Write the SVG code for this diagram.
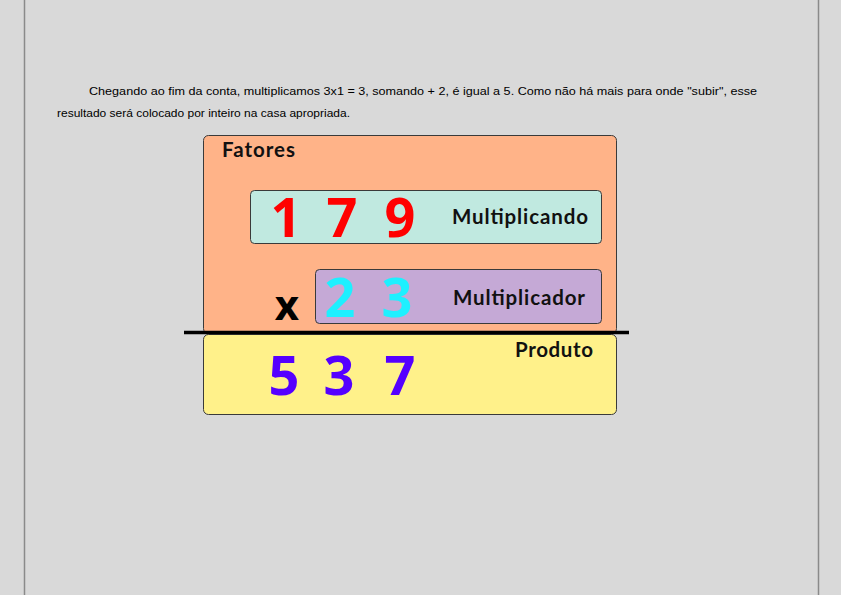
<svg xmlns="http://www.w3.org/2000/svg" width="841" height="595" viewBox="0 0 841 595">
<style>
.p{font-family:"Liberation Sans",Arial,sans-serif;font-size:11.5px;fill:#000}
.lbl{font-family:"Lato","Noto Sans",sans-serif;font-weight:bold;font-size:20.5px;fill:#111}
.dig{font-family:"Noto Sans","DejaVu Sans",sans-serif;font-weight:bold;font-size:54px;text-anchor:middle}
.box{stroke:#3a3a3a;stroke-width:1}
</style>
<rect width="841" height="595" fill="#d9d9d9"/>
<line x1="24.5" y1="0" x2="24.5" y2="595" stroke="#8a8a8a" stroke-width="1.5"/>
<line x1="818.5" y1="0" x2="818.5" y2="595" stroke="#8a8a8a" stroke-width="1.5"/>
<text class="p" x="89" y="95" textLength="668" lengthAdjust="spacingAndGlyphs">Chegando ao fim da conta, multiplicamos 3x1 = 3, somando + 2, é igual a 5. Como não há mais para onde "subir", esse</text>
<text class="p" x="57" y="117" textLength="293" lengthAdjust="spacingAndGlyphs">resultado será colocado por inteiro na casa apropriada.</text>
<g id="fatores">
<rect class="box" x="203.5" y="135.5" width="413" height="198" rx="5" fill="#ffb388"/>
<text class="lbl" x="222" y="157" textLength="73">Fatores</text>
</g>
<g id="produto">
<rect class="box" x="203.5" y="334.5" width="413" height="80" rx="5" fill="#fff18a"/>
<text class="lbl" x="515" y="357" textLength="78">Produto</text>
<text class="dig" fill="#5500ff" x="284" y="395">5</text>
<text class="dig" fill="#5500ff" x="339" y="395">3</text>
<text class="dig" fill="#5500ff" x="400" y="395">7</text>
</g>
<g id="multiplicando">
<rect class="box" x="250.5" y="190.5" width="351" height="53" rx="4" fill="#c0e9e0"/>
<text class="lbl" x="452" y="224" textLength="136">Multiplicando</text>
<text class="dig" fill="#ff0000" x="286" y="237">1</text>
<text class="dig" fill="#ff0000" x="342" y="237">7</text>
<text class="dig" fill="#ff0000" x="400" y="237">9</text>
</g>
<g id="multiplicador">
<rect class="box" x="315.5" y="269.5" width="286" height="54" rx="4" fill="#c5a9d6"/>
<text class="lbl" x="453" y="305" textLength="132">Multiplicador</text>
<text class="dig" fill="#1ef0ff" x="340" y="317">2</text>
<text class="dig" fill="#1ef0ff" x="397" y="317">3</text>
<text class="dig" fill="#000" style="font-size:42px" x="287" y="320">x</text>
</g>
<g id="connectors">
<line x1="184" y1="332.5" x2="629" y2="332.5" stroke="#000" stroke-width="3.5"/>
</g>
</svg>
